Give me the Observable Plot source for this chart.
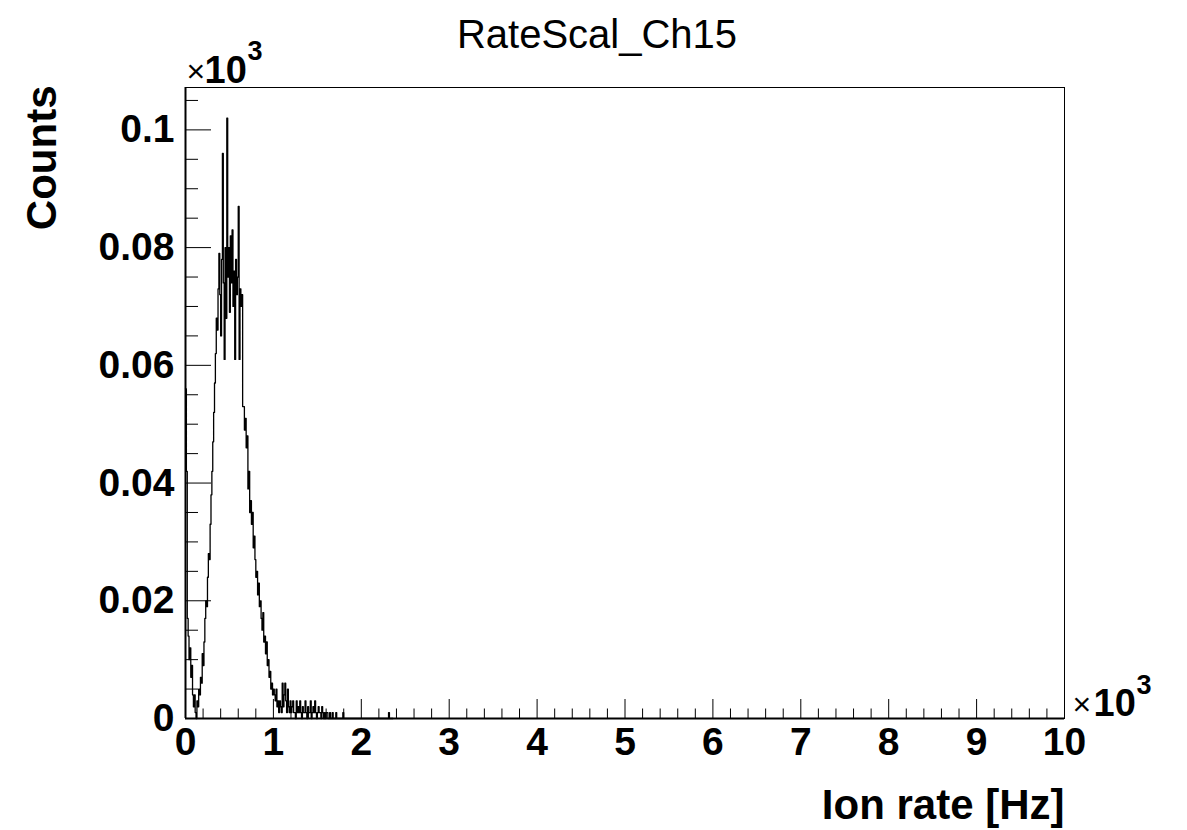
<!DOCTYPE html>
<html><head><meta charset="utf-8">
<script src="https://cdn.jsdelivr.net/npm/d3@7"></script>
<script src="https://cdn.jsdelivr.net/npm/@observablehq/plot@0.6"></script>
<style>html,body{margin:0;padding:0;background:#fff}svg{display:block}</style>
</head><body><div id="chart"></div>
<script>
// ---- data ----
const titleText = "RateScal_Ch15";
const xLabel = "Ion rate [Hz]";
const yLabel = "Counts";
const multiplierBase = "10";
const multiplierExp = "3";
const binWidthHz = 10;          // histogram bin width in Hz
const counts = [               // counts per 10 Hz bin, starting at 0 Hz
  56, 42, 17, 14, 10, 12, 7, 9, 4, 2, 4, 1,
  0, 3, 2, 5, 4, 7, 6, 11, 9, 13, 17,
  20, 19, 24, 28, 27, 33, 38, 42, 47, 52, 57,
  62, 68, 66, 73, 79, 72, 65, 78, 96, 74, 61,
  80, 68, 102, 75, 80, 69, 82, 74, 83, 70, 76,
  61, 78, 72, 75, 87, 61, 73, 70, 72, 53,
  53, 49, 51, 46, 48, 39, 42, 35, 37,
  33, 35, 29, 31, 27, 24,
  25, 21, 23, 19, 20, 17, 15, 18, 13, 14,
  11, 13, 9, 10, 7, 8, 5, 6, 4, 5,
  4, 3, 5, 2, 3, 1, 3, 2, 1, 6,
  2, 4, 6, 3, 1, 5, 2, 1, 3, 1,
  2, 3, 1, 1, 0, 3, 1, 2, 1, 3, 1, 0, 2, 1, 1,
  3, 1, 0, 2, 1, 1, 3, 0, 1, 2, 1, 3, 1, 0, 1, 2, 1, 1, 0, 2, 1, 0, 1, 0, 1,
  1, 0, 0, 1, 0, 0, 1, 0, 0, 0, 1, 0, 0, 0, 0, 0, 0, 0, 1, 0,
  0, 0, 0, 0, 0, 0, 0, 0, 0, 0, 0, 0, 0, 0, 0, 0, 0, 0, 0, 0,
  0, 0, 0, 0, 0, 0, 0, 0, 0, 0, 0, 0, 0, 0, 0, 0, 0, 0, 0, 0,
  0, 0, 0, 0, 0, 0, 0, 0, 0, 0, 1, 0, 0, 0, 0
];
const xMajorTicks = [0, 1, 2, 3, 4, 5, 6, 7, 8, 9, 10];
const yMajorTicks = [0, 0.02, 0.04, 0.06, 0.08, 0.1];
const xMinorTicks = d3.range(0, 10.0001, 0.2).filter(v => Math.abs(v - Math.round(v)) > 1e-6);
const yMinorTicks = d3.range(0, 0.1071, 0.005).filter(v => !yMajorTicks.some(t => Math.abs(t - v) < 1e-9));

// values in units of 10^3 (as in the reference axes)
const bins = counts.map((c, i) => ({x: i * binWidthHz / 1000, y: c / 1000}));
bins.push({x: counts.length * binWidthHz / 1000, y: counts[counts.length - 1] / 1000});

// ---- layout ----
const W = 1187, H = 830, mL = 185, mR = 123, mT = 87, mB = 112;
const fw = W - mL - mR, fh = H - mT - mB;
const font = "'Liberation Sans', Arial, Helvetica, sans-serif";

const chart = Plot.plot({
  width: W, height: H,
  marginLeft: mL, marginRight: mR, marginTop: mT, marginBottom: mB,
  style: {fontFamily: font, background: "white", overflow: "visible", color: "black"},
  x: {domain: [0, 10], axis: null},
  y: {domain: [0, 0.1072], axis: null},
  marks: [
    Plot.ruleX(xMinorTicks, {x: d => d, insetTop: fh - 9.5, stroke: "black", strokeWidth: 1}),
    Plot.ruleX(xMajorTicks, {x: d => d, insetTop: fh - 19, stroke: "black", strokeWidth: 1}),
    Plot.ruleY(yMinorTicks, {y: d => d, insetRight: fw - 13, stroke: "black", strokeWidth: 1}),
    Plot.ruleY(yMajorTicks, {y: d => d, insetRight: fw - 26, stroke: "black", strokeWidth: 1}),
    Plot.line(bins, {x: "x", y: "y", curve: "step-after", stroke: "black", strokeWidth: 1.3}),
    Plot.frame({stroke: "black", strokeWidth: 1}),
    Plot.ruleX([0], {stroke: "black", strokeWidth: 2}),
    Plot.ruleY([0], {stroke: "black", strokeWidth: 2}),
    // tick labels
    Plot.text(xMajorTicks, {x: d => d, text: d => String(d), frameAnchor: "bottom", lineAnchor: "top",
      dy: 9, fontSize: 39, fontWeight: "bold", fill: "black"}),
    Plot.text(yMajorTicks, {y: d => d, text: d => String(d), frameAnchor: "left", textAnchor: "end",
      lineAnchor: "middle", dx: -11, fontSize: 39, fontWeight: "bold", fill: "black"}),
    // title
    Plot.text([titleText], {frameAnchor: "top", lineAnchor: "bottom", dx: -28, dy: -40, fontSize: 40, fill: "black"}),
    // axis titles
    Plot.text([xLabel], {frameAnchor: "bottom-right", textAnchor: "end", lineAnchor: "bottom", dy: 100,
      fontSize: 42, fontWeight: "bold", fill: "black"}),
    Plot.text([yLabel], {frameAnchor: "top-left", textAnchor: "end", lineAnchor: "middle", rotate: -90,
      dx: -143, dy: -2, fontSize: 42, fontWeight: "bold", fill: "black"}),
    // ×10^3 multipliers (y axis, top-left)
    Plot.text(["×"], {frameAnchor: "top-left", textAnchor: "start", lineAnchor: "bottom", dx: 1, dy: -6, fontSize: 32, fill: "black"}),
    Plot.text([multiplierBase], {frameAnchor: "top-left", textAnchor: "start", lineAnchor: "bottom", dx: 19, dy: -5, fontSize: 38, fontWeight: "bold", fill: "black"}),
    Plot.text([multiplierExp], {frameAnchor: "top-left", textAnchor: "start", lineAnchor: "bottom", dx: 62, dy: -28, fontSize: 27, fontWeight: "bold", fill: "black"}),
    // ×10^3 multipliers (x axis, bottom-right)
    Plot.text(["×"], {frameAnchor: "bottom-right", textAnchor: "start", lineAnchor: "bottom", dx: 8, dy: -4, fontSize: 32, fill: "black"}),
    Plot.text([multiplierBase], {frameAnchor: "bottom-right", textAnchor: "start", lineAnchor: "bottom", dx: 29, dy: -3, fontSize: 38, fontWeight: "bold", fill: "black"}),
    Plot.text([multiplierExp], {frameAnchor: "bottom-right", textAnchor: "start", lineAnchor: "bottom", dx: 72, dy: -25, fontSize: 27, fontWeight: "bold", fill: "black"})
  ]
});
document.getElementById("chart").appendChild(chart);
</script>
</body></html>
